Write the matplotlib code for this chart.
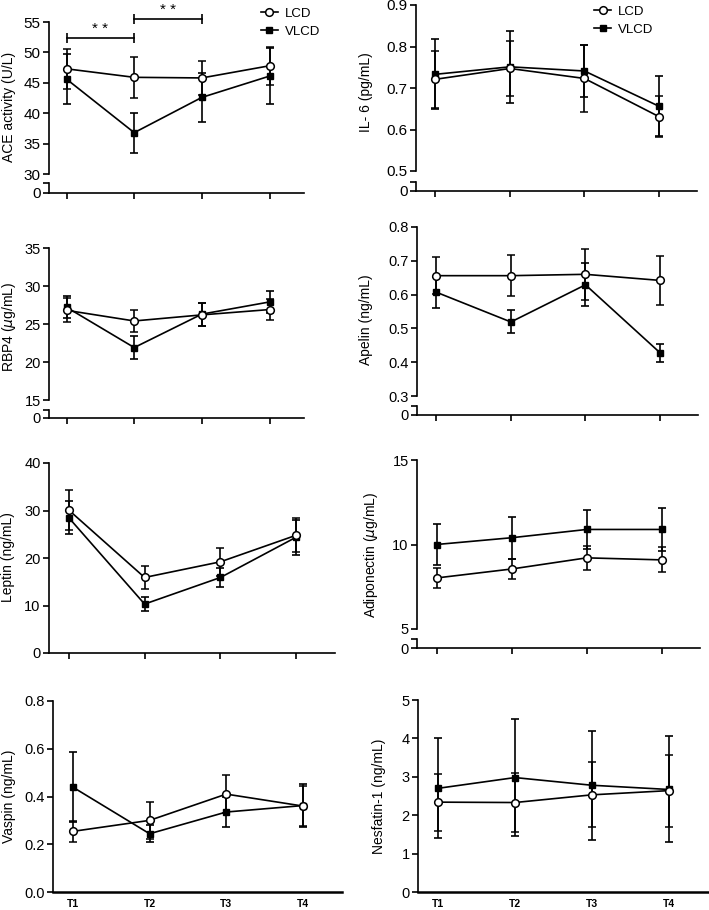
import numpy as np
import matplotlib.pyplot as plt
from matplotlib.lines import Line2D

plt.rcParams['font.family'] = ['Liberation Sans', 'DejaVu Sans']

# time points
time_points = ['T1', 'T2', 'T3', 'T4']

# ACE activity (U/L)
ace_lcd = [47.3, 45.9, 45.8, 47.8]
ace_lcd_err = [3.3, 3.4, 2.8, 3.1]
ace_vlcd = [45.6, 36.8, 42.6, 46.1]
ace_vlcd_err = [4.1, 3.3, 4.0, 4.6]
ace_sig = [(0, 1, 52.4), (1, 2, 55.5)]

# IL-6 (pg/mL)
il6_lcd = [0.721, 0.747, 0.723, 0.631]
il6_lcd_err = [0.068, 0.067, 0.080, 0.050]
il6_vlcd = [0.733, 0.751, 0.741, 0.656]
il6_vlcd_err = [0.084, 0.086, 0.062, 0.072]

# RBP4 (ug/mL)
rbp4_lcd = [26.8, 25.4, 26.2, 26.9]
rbp4_lcd_err = [1.6, 1.4, 1.5, 1.4]
rbp4_vlcd = [27.2, 21.9, 26.3, 27.9]
rbp4_vlcd_err = [1.45, 1.5, 1.5, 1.4]

# Apelin (ng/mL)
apelin_lcd = [0.656, 0.656, 0.660, 0.642]
apelin_lcd_err = [0.055, 0.061, 0.075, 0.073]
apelin_vlcd = [0.607, 0.519, 0.629, 0.428]
apelin_vlcd_err = [0.046, 0.034, 0.064, 0.027]

# Leptin (ng/mL)
leptin_lcd = [30.1, 15.9, 19.2, 24.8]
leptin_lcd_err = [4.2, 2.5, 3.0, 3.6]
leptin_vlcd = [28.5, 10.3, 15.9, 24.4]
leptin_vlcd_err = [3.4, 1.5, 2.1, 3.7]

# Adiponectin (ug/mL)
adipo_lcd = [8.02, 8.55, 9.21, 9.09]
adipo_lcd_err = [0.58, 0.6, 0.7, 0.74]
adipo_vlcd = [10.0, 10.4, 10.89, 10.89]
adipo_vlcd_err = [1.2, 1.23, 1.17, 1.25]

# Vaspin (ng/mL)
vaspin_lcd = [0.254, 0.300, 0.410, 0.360]
vaspin_lcd_err = [0.043, 0.078, 0.080, 0.085]
vaspin_vlcd = [0.439, 0.244, 0.335, 0.362]
vaspin_vlcd_err = [0.147, 0.035, 0.063, 0.09]

# Nesfatin-1 (ng/mL)
nesf_lcd = [2.34, 2.33, 2.53, 2.64]
nesf_lcd_err = [0.74, 0.78, 0.85, 0.94]
nesf_vlcd = [2.70, 2.98, 2.78, 2.67]
nesf_vlcd_err = [1.3, 1.52, 1.42, 1.38]

W, H = 709, 910
fig = plt.figure(figsize=(W / 100, H / 100), dpi=100)
x = np.arange(len(time_points))
XLIM = (-0.26, 3.51)
LW = 1.2


def px_rect(l, r, t, b):
    return [l / W, 1 - b / H, (r - l) / W, (b - t) / H]


def style_axis(ax, tsize):
    for s in ['top', 'right']:
        ax.spines[s].set_visible(False)
    for s in ['left', 'bottom']:
        ax.spines[s].set_linewidth(LW)
    ax.tick_params(direction='out', length=4, width=LW, labelsize=tsize, pad=2)
    ax.set_xlim(*XLIM)


def panel(box, ylabel, label_pos, yticks, ylim, lcd, lcd_err, vlcd, vlcd_err,
          brk=None, bottom_labels=False, tsize=10.5):
    l, r, t, b = box
    ax = fig.add_axes(px_rect(l, r, t, b))
    style_axis(ax, tsize)
    ax.set_ylim(*ylim)
    ax.set_yticks(yticks)
    ax.set_yticklabels([f'{v:.1f}' if isinstance(v, float) else str(v)
                        for v in yticks])
    ax.errorbar(x, vlcd, yerr=vlcd_err, fmt='-s', color='black', mfc='black',
                ms=4.5, lw=LW, elinewidth=LW, capsize=3, capthick=LW,
                clip_on=False, zorder=3)
    ax.errorbar(x, lcd, yerr=lcd_err, fmt='-o', color='black', mfc='white',
                mew=1.1, ms=5.5, lw=LW, elinewidth=LW, capsize=3, capthick=LW,
                clip_on=False, zorder=4)
    if brk is not None:
        ax.spines['bottom'].set_visible(False)
        ax.tick_params(axis='x', bottom=False, labelbottom=False)
        bt, bb = brk
        axb = fig.add_axes(px_rect(l, r, bt, bb))
        style_axis(axb, tsize)
        axb.set_ylim(0, 1)
        axb.set_yticks([0, 1])
        axb.set_yticklabels(['0', ''])
        axb.set_xticks(x)
        axb.set_xticklabels([])
        axb.patch.set_alpha(0)
        xaxis_ax = axb
    else:
        ax.set_xticks(x)
        xaxis_ax = ax
    if bottom_labels:
        xaxis_ax.set_xticklabels(time_points, fontsize=7.5, fontweight='bold')
        xaxis_ax.tick_params(axis='x', length=0, pad=5)
        xaxis_ax.spines['bottom'].set_linewidth(1.8)
    else:
        xaxis_ax.set_xticklabels([])
    ax.set_ylabel(ylabel, fontsize=10)
    ax.yaxis.set_label_coords(label_pos[0] / W, 1 - label_pos[1] / H,
                              transform=fig.transFigure)
    return ax


def add_legend(ax, anchor):
    handles = [
        Line2D([], [], color='black', marker='o', mfc='white', mew=1.1,
               ms=5.5, lw=LW),
        Line2D([], [], color='black', marker='s', mfc='black', ms=4.5, lw=LW),
    ]
    ax.legend(handles, ['LCD', 'VLCD'], loc='upper left', bbox_to_anchor=anchor,
              frameon=False, fontsize=9.5, handlelength=1.3, handletextpad=0.5,
              labelspacing=0.45, borderaxespad=0)


ax_ace = panel((49, 304, 22, 174), 'ACE activity (U/L)', (16, 107),
               [30, 35, 40, 45, 50, 55], (30, 55),
               ace_lcd, ace_lcd_err, ace_vlcd, ace_vlcd_err, brk=(183, 193),
               tsize=11)
for i0, i1, ys in ace_sig:
    ax_ace.plot([i0, i1], [ys, ys], color='black', lw=LW, marker='|', ms=7,
                mew=LW, clip_on=False)
    ax_ace.text((i0 + i1) / 2, ys + 0.3, '* *', ha='center', va='bottom',
                fontsize=11)
add_legend(ax_ace, (0.81, 1.13))

ax_il6 = panel((416, 697, 5, 171), 'IL- 6 (pg/mL)', (373, 92),
               [0.5, 0.6, 0.7, 0.8, 0.9], (0.5, 0.9),
               il6_lcd, il6_lcd_err, il6_vlcd, il6_vlcd_err, brk=(182, 191),
               tsize=11)
add_legend(ax_il6, (0.615, 1.03))

panel((49, 304, 248, 400), r'RBP4 ($\mu$g/mL)', (18, 327),
      [15, 20, 25, 30, 35], (15, 35),
      rbp4_lcd, rbp4_lcd_err, rbp4_vlcd, rbp4_vlcd_err, brk=(410, 418))

panel((417, 698, 227, 396), 'Apelin (ng/mL)', (373, 320),
      [0.3, 0.4, 0.5, 0.6, 0.7, 0.8], (0.3, 0.8),
      apelin_lcd, apelin_lcd_err, apelin_vlcd, apelin_vlcd_err, brk=(406, 415))

panel((49, 335, 463, 653), 'Leptin (ng/mL)', (15, 557),
      [0, 10, 20, 30, 40], (0, 40),
      leptin_lcd, leptin_lcd_err, leptin_vlcd, leptin_vlcd_err)

panel((417, 700, 460, 629), r'Adiponectin ($\mu$g/mL)', (380, 555),
      [5, 10, 15], (5, 15),
      adipo_lcd, adipo_lcd_err, adipo_vlcd, adipo_vlcd_err, brk=(639, 648))

panel((53, 342, 701, 892), 'Vaspin (ng/mL)', (16, 796),
      [0.0, 0.2, 0.4, 0.6, 0.8], (0, 0.8),
      vaspin_lcd, vaspin_lcd_err, vaspin_vlcd, vaspin_vlcd_err,
      bottom_labels=True)

panel((418, 708, 700, 892), 'Nesfatin-1 (ng/mL)', (386, 796),
      [0, 1, 2, 3, 4, 5], (0, 5),
      nesf_lcd, nesf_lcd_err, nesf_vlcd, nesf_vlcd_err, bottom_labels=True)

fig.savefig('out.png', dpi=100)
